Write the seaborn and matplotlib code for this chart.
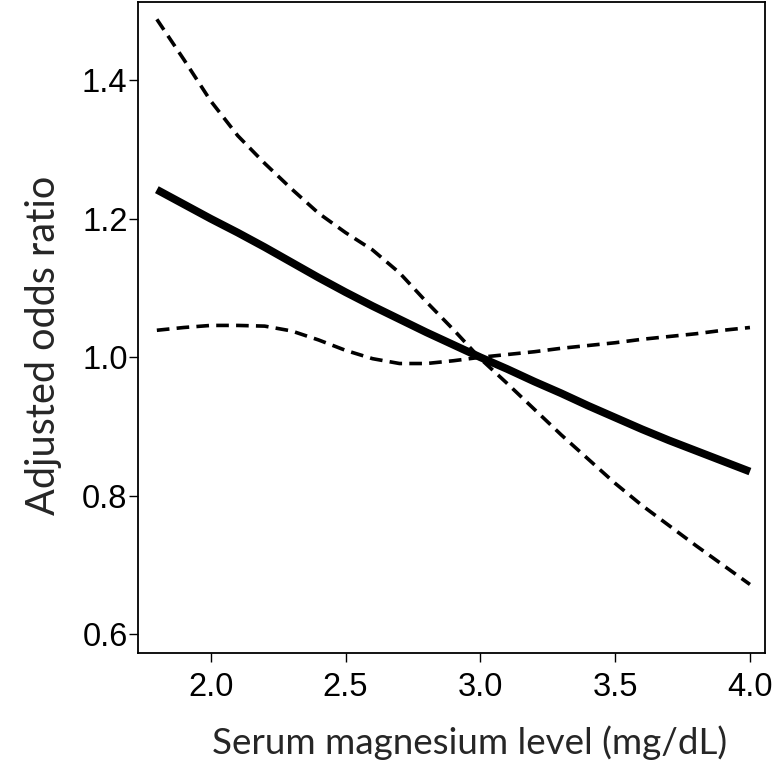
import seaborn as sns
import matplotlib
matplotlib.use('Agg')
import matplotlib.pyplot as plt
import pandas as pd
import numpy as np

# serum magnesium grid (mg/dL)
mg_level = [1.8, 1.9, 2.0, 2.1, 2.2, 2.3, 2.4, 2.5, 2.6, 2.7, 2.8, 2.9,
            3.0, 3.1, 3.2, 3.3, 3.4, 3.5, 3.6, 3.7, 3.8, 3.9, 4.0]

# adjusted odds ratio
odds_ratio = [1.242, 1.221, 1.200, 1.180, 1.159, 1.137, 1.115, 1.094, 1.074, 1.055, 1.036, 1.018,
              1.000, 0.983, 0.965, 0.948, 0.930, 0.913, 0.896, 0.880, 0.865, 0.850, 0.835]

# confidence band, the two dashed curves
ci_a = [1.488, 1.430, 1.370, 1.320, 1.280, 1.243, 1.208, 1.180, 1.155, 1.122, 1.080, 1.040,
        0.998, 0.962, 0.925, 0.888, 0.853, 0.818, 0.786, 0.757, 0.728, 0.700, 0.672]
ci_b = [1.039, 1.043, 1.046, 1.046, 1.045, 1.038, 1.025, 1.010, 0.998, 0.991, 0.991, 0.995,
        1.000, 1.004, 1.008, 1.013, 1.017, 1.021, 1.026, 1.030, 1.034, 1.039, 1.043]

x_ticks = [2.0, 2.5, 3.0, 3.5, 4.0]
y_ticks = [0.6, 0.8, 1.0, 1.2, 1.4]

df = pd.DataFrame({'mg': mg_level, 'or': odds_ratio, 'ci_a': ci_a, 'ci_b': ci_b})

sns.set_theme(style='ticks')
plt.rcParams['font.family'] = ['Liberation Sans', 'DejaVu Sans']

fig, ax = plt.subplots(figsize=(7.73, 7.66), dpi=100)
fig.subplots_adjust(left=0.1785, right=0.9897, bottom=0.1475, top=0.9974)

sns.lineplot(data=df, x='mg', y='ci_a', ax=ax, color='black', linewidth=2.6,
             estimator=None)
sns.lineplot(data=df, x='mg', y='ci_b', ax=ax, color='black', linewidth=2.6,
             estimator=None)
sns.lineplot(data=df, x='mg', y='or', ax=ax, color='black', linewidth=5.6,
             estimator=None)
for ln in ax.lines[:2]:
    ln.set_dashes((3.5, 2.0))
ax.lines[2].set_solid_capstyle('butt')
ax.lines[2].set_solid_joinstyle('round')

ax.set_xlim(1.73, 4.056)
ax.set_ylim(0.573, 1.513)
ax.set_xticks(x_ticks)
ax.set_xticklabels([f'{t:.1f}' for t in x_ticks])
ax.set_yticks(y_ticks)
ax.set_yticklabels([f'{t:.1f}' for t in y_ticks])
ax.tick_params(axis='both', direction='out', length=6.5, width=1, color='black',
               labelsize=23.5, labelcolor='black', pad=1)
ax.tick_params(axis='x', pad=7)

for sp in ax.spines.values():
    sp.set_visible(True)
    sp.set_linewidth(1.3)
    sp.set_color('black')

ax.set_xlabel('Serum magnesium level (mg/dL)', fontsize=26.5, family='Lato', labelpad=16)
ax.set_ylabel('Adjusted odds ratio', fontsize=28.5, family='Lato', labelpad=14)
# labels in the original sit a bit off-centre
ax.xaxis.label.set_x(0.528)
ax.yaxis.label.set_y(0.473)

fig.savefig('out.png', dpi=100)
